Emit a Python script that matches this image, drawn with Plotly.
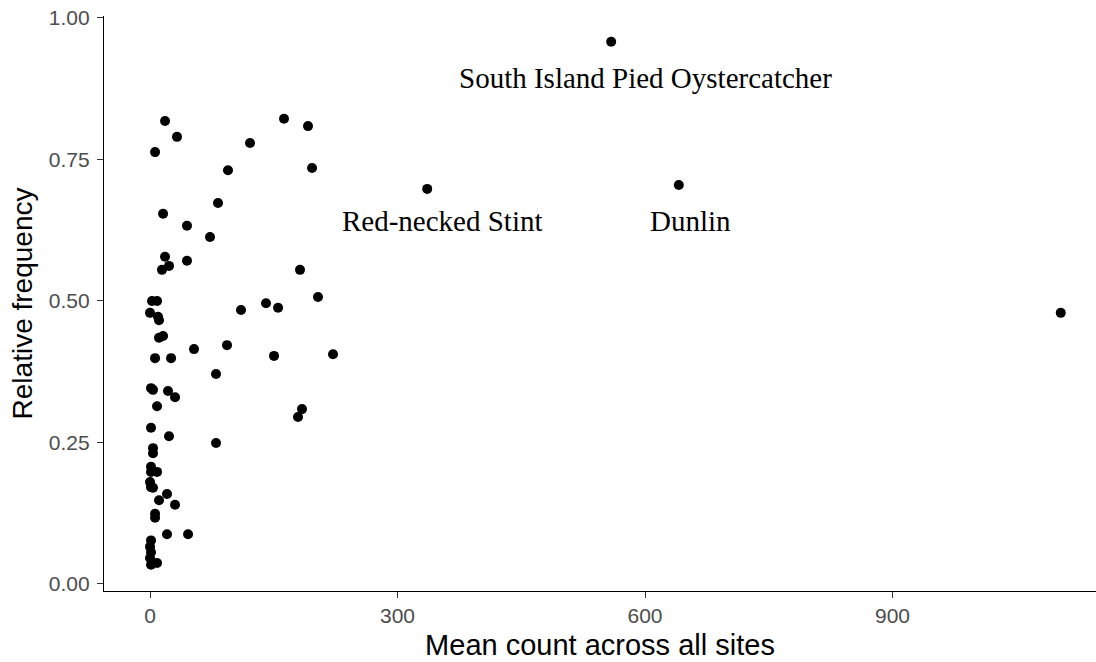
import plotly.graph_objects as go

mean_count = [18.2, 32.7, 6.1, 162.4, 191.5, 121.2, 94.5, 196.4, 82.4, 15.8,
              44.8, 72.7, 18.2, 23.0, 14.5, 44.8, 181.8, 203.6, 140.6, 155.2,
              110.3, 2.4, 8.5, 0.0, 9.7, 10.9, 10.9, 15.8, 53.3, 93.3,
              150.3, 221.8, 6.1, 25.5, 80.0, 1.2, 3.6, 21.8, 30.3, 8.5,
              184.2, 179.4, 1.2, 23.0, 80.0, 3.6, 3.6, 1.2, 1.2, 8.5,
              0.0, 1.2, 3.6, 20.6, 10.9, 30.3, 6.1, 6.1, 20.6, 46.1,
              1.2, 0.0, 1.2, 0.0, 8.5, 1.2,
              336.0, 641.0, 559.0, 1104.0]
rel_freq = [0.818, 0.790, 0.763, 0.822, 0.809, 0.779, 0.731, 0.735, 0.673, 0.654,
            0.633, 0.613, 0.578, 0.562, 0.555, 0.571, 0.555, 0.507, 0.496, 0.488,
            0.484, 0.500, 0.500, 0.479, 0.472, 0.466, 0.435, 0.438, 0.415, 0.422,
            0.403, 0.406, 0.399, 0.399, 0.371, 0.346, 0.343, 0.341, 0.330, 0.314,
            0.309, 0.295, 0.276, 0.261, 0.249, 0.240, 0.231, 0.207, 0.198, 0.198,
            0.180, 0.171, 0.170, 0.159, 0.148, 0.140, 0.124, 0.117, 0.088, 0.088,
            0.077, 0.066, 0.056, 0.046, 0.037, 0.034,
            0.698, 0.705, 0.958, 0.479]

label_names = ["South Island Pied Oystercatcher", "Red-necked Stint", "Dunlin"]
label_x = [601, 354, 655]
label_y = [0.894, 0.642, 0.642]

x_ticks = [0, 300, 600, 900]
y_ticks = [0.0, 0.25, 0.5, 0.75, 1.0]
y_tick_text = ["0.00", "0.25", "0.50", "0.75", "1.00"]

fig = go.Figure()
fig.add_trace(go.Scatter(
    x=mean_count, y=rel_freq, mode="markers",
    marker=dict(color="black", size=10, line=dict(width=0)),
    showlegend=False, hoverinfo="x+y"))

for name, lx, ly in zip(label_names, label_x, label_y):
    fig.add_annotation(x=lx, y=ly, xref="x", yref="y", text=name,
                       showarrow=False,
                       font=dict(family="Liberation Serif, Times New Roman, serif",
                                 size=29, color="black"))

axis_common = dict(showline=True, linecolor="black", linewidth=1.2,
                   ticks="outside", ticklen=6, tickcolor="#333333", tickwidth=1.2,
                   showgrid=False, zeroline=False,
                   tickfont=dict(family="Liberation Sans, Arial, sans-serif",
                                 size=21, color="#4d4d4d"),
                   mirror=False)

fig.update_layout(
    width=1096, height=662,
    margin=dict(l=104, r=0, t=16, b=71),
    paper_bgcolor="white", plot_bgcolor="white",
    xaxis=dict(range=[-55.8, 1146.7], tickvals=x_ticks,
               title=dict(text="Mean count across all sites", standoff=8,
                          font=dict(family="Liberation Sans, Arial, sans-serif",
                                    size=29, color="black")),
               **axis_common),
    yaxis=dict(range=[-0.0124, 1.0035], tickvals=y_ticks, ticktext=y_tick_text,
               ticklabelstandoff=3,
               title=dict(text="Relative frequency", standoff=8,
                          font=dict(family="Liberation Sans, Arial, sans-serif",
                                    size=28, color="black")),
               **axis_common),
)

fig.write_html("out.html")
